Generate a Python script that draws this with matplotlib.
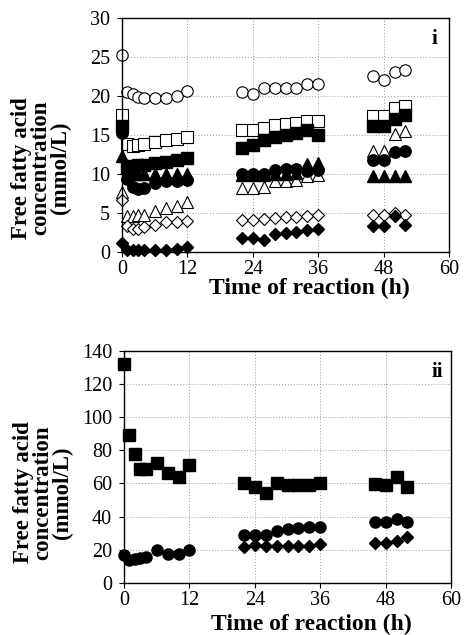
import matplotlib
matplotlib.use("Agg")
import matplotlib.pyplot as plt

plt.rcParams['font.family'] = ['Liberation Serif', 'DejaVu Serif']

# ---------------- data: panel i ----------------
t_early = [0, 1, 2, 3, 4, 6, 8, 10, 12]
t_mid = [22, 24, 26, 28, 30, 32, 34, 36]
t_late = [46, 48, 50, 52]
t_i = t_early + t_mid + t_late

open_circle_i = [25.3, 20.5, 20.3, 19.9, 19.7, 19.8, 19.8, 20.0, 20.7,
                 20.5, 20.3, 21.0, 21.0, 21.0, 21.0, 21.6, 21.6,
                 22.6, 22.1, 23.1, 23.3]
open_square_i = [17.6, 13.8, 13.6, 13.7, 13.9, 14.1, 14.3, 14.5, 14.8,
                 15.6, 15.7, 15.9, 16.3, 16.4, 16.5, 16.8, 16.8,
                 17.4, 17.4, 18.5, 18.7]
filled_square_i = [16.2, 10.8, 11.0, 11.1, 11.2, 11.4, 11.6, 11.8, 12.0,
                   13.3, 13.7, 14.3, 14.8, 15.0, 15.2, 15.6, 15.0,
                   16.2, 16.2, 17.1, 17.6]
filled_triangle_i = [12.3, 10.0, 10.0, 10.0, 10.0, 10.0, 10.0, 10.0, 10.0,
                     9.9, 9.9, 9.9, 10.0, 10.0, 10.1, 11.3, 11.4,
                     9.8, 9.8, 9.8, 9.8]
filled_circle_i = [15.2, 9.3, 8.3, 8.1, 8.2, 8.9, 9.1, 9.1, 9.2,
                   10.0, 10.0, 10.0, 10.5, 10.6, 10.6, 10.4, 10.5,
                   11.8, 11.8, 12.8, 13.0]
open_triangle_i = [7.7, 4.6, 4.6, 4.7, 4.8, 5.2, 5.6, 5.9, 6.4,
                   8.2, 8.2, 8.3, 9.1, 9.1, 9.2, 9.8, 9.9,
                   12.9, 12.9, 15.1, 15.5]
open_diamond_i = [6.7, 3.3, 2.9, 3.0, 3.2, 3.5, 3.8, 3.9, 4.0,
                  4.1, 4.1, 4.2, 4.4, 4.5, 4.5, 4.6, 4.8,
                  4.7, 4.7, 5.0, 4.7]
filled_diamond_i = [1.1, 0.3, 0.3, 0.3, 0.3, 0.3, 0.3, 0.4, 0.7,
                    1.8, 1.8, 1.5, 2.3, 2.4, 2.6, 2.8, 3.0,
                    3.3, 3.3, 4.6, 3.4]

# ---------------- data: panel ii ----------------
t_sq_ii = t_early + t_mid + t_late
filled_square_ii = [132, 89, 78, 68.5, 69, 72.5, 66, 64, 71,
                    60, 58, 54, 60.5, 59, 59, 59, 60,
                    59.5, 59, 64, 58]
t_ci_ii = t_early + t_mid + t_late
filled_circle_ii = [17, 14, 14.5, 15, 15.5, 20, 17.5, 17.5, 20,
                    29, 29, 29, 31.5, 32.3, 33, 33.5, 34,
                    36.5, 37, 38.5, 37]
t_di_ii = t_mid + t_late
filled_diamond_ii = [21.5, 23, 22.5, 22.5, 22.5, 22.5, 22.5, 23.5,
                     24.3, 24, 25.5, 27.5]

x_ticks = [0, 12, 24, 36, 48, 60]
y_ticks_i = [0, 5, 10, 15, 20, 25, 30]
y_ticks_ii = [0, 20, 40, 60, 80, 100, 120, 140]

W, H = 465, 635
fig = plt.figure(figsize=(W / 100, H / 100), dpi=100)
ax1 = fig.add_axes([122 / W, 1 - 252 / H, 327 / W, 234 / H])
ax2 = fig.add_axes([124 / W, 1 - 583 / H, 327 / W, 232.3 / H])


def style(ax, yticks, ylim, tag, tag_xy, xlab_y, ylab_y):
    ax.set_xlim(0, 60)
    ax.set_ylim(*ylim)
    ax.set_xticks(x_ticks)
    ax.set_yticks(yticks)
    ax.tick_params(direction='out', length=3.5, width=0.8, labelsize=14.5)
    ax.tick_params(axis='y', pad=5)
    ax.tick_params(axis='x', pad=2.5)
    ax.grid(True, color='#999999', linestyle=(0, (1, 2)), linewidth=0.7)
    ax.set_axisbelow(True)
    for s in ax.spines.values():
        s.set_linewidth(1.0)
    ax.set_xlabel('Time of reaction (h)', fontsize=17, fontweight='bold')
    ax.xaxis.set_label_coords(0.573, xlab_y)
    ax.xaxis.label.set_verticalalignment('baseline')
    ax.set_ylabel('Free fatty acid\nconcentration\n(mmol/L)', fontsize=16.5,
                  fontweight='bold', linespacing=0.92)
    ax.yaxis.set_label_coords(-0.155, ylab_y)
    ax.text(tag_xy[0], tag_xy[1], tag, transform=ax.transAxes, ha='right',
            va='center', fontsize=15, fontweight='bold')


ms = 8.2
ow = 0.8
# panel i
ax1.plot(t_i, open_circle_i, 'o', ms=ms, mfc='white', mec='black', mew=ow, ls='none', clip_on=False)
ax1.plot(t_i, open_square_i, 's', ms=ms, mfc='white', mec='black', mew=ow, ls='none', clip_on=False)
ax1.plot(t_i, open_triangle_i, '^', ms=ms, mfc='white', mec='black', mew=ow, ls='none', clip_on=False)
ax1.plot(t_i, open_diamond_i, 'D', ms=6.0, mfc='white', mec='black', mew=ow, ls='none', clip_on=False)
ax1.plot(t_i, filled_square_i, 's', ms=ms, mfc='black', mec='black', ls='none', clip_on=False)
ax1.plot(t_i, filled_circle_i, 'o', ms=ms, mfc='black', mec='black', ls='none', clip_on=False)
ax1.plot(t_i, filled_triangle_i, '^', ms=ms, mfc='black', mec='black', ls='none', clip_on=False)
ax1.plot(t_i, filled_diamond_i, 'D', ms=6.0, mfc='black', mec='black', ls='none', clip_on=False)
style(ax1, y_ticks_i, (0, 30), 'i', (0.963, 0.912), -42 / 234, 0.36)

# panel ii
ax2.plot(t_sq_ii, filled_square_ii, 's', ms=8.0, mfc='black', mec='black', ls='none', clip_on=False)
ax2.plot(t_ci_ii, filled_circle_ii, 'o', ms=8.0, mfc='black', mec='black', ls='none', clip_on=False)
ax2.plot(t_di_ii, filled_diamond_ii, 'D', ms=6.0, mfc='black', mec='black', ls='none', clip_on=False)
style(ax2, y_ticks_ii, (0, 140), 'ii', (0.975, 0.91), -47 / 232.3, 0.39)

fig.savefig('out.png', dpi=100)
